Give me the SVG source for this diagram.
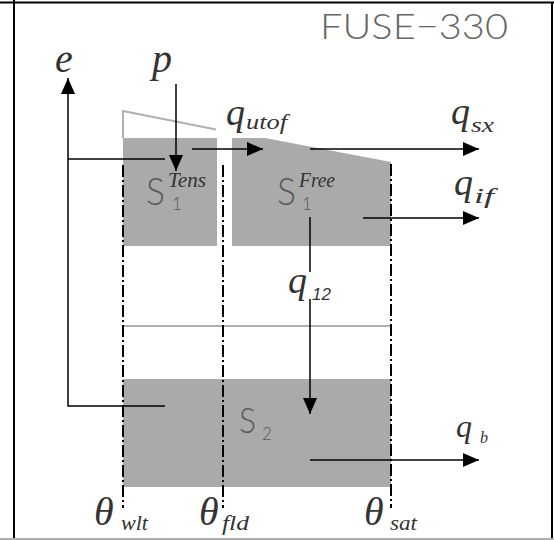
<svg xmlns="http://www.w3.org/2000/svg" width="554" height="540" viewBox="0 0 554 540">
<defs>
<style>
.frame{stroke:#000;stroke-width:2;fill:none}
.fill{fill:#aaaaaa;stroke:none}
.outline{stroke:#b0b0b0;stroke-width:2;fill:none}
.dd{stroke:#000;stroke-width:2;fill:none;stroke-dasharray:12,3,2,3}
.conn{stroke:#000;stroke-width:1.5;fill:none}
.m{font-family:"Liberation Serif",serif;font-style:italic;fill:#333}
.s{font-family:Lato,"Liberation Sans",sans-serif;font-weight:300;fill:#5a5a5a}
</style>
<marker id="ah" viewBox="0 0 16 14" refX="16" refY="7" markerWidth="16" markerHeight="14" markerUnits="userSpaceOnUse" orient="auto">
<path d="M0,0 L16,7 L0,14 Z" fill="#000"/>
</marker>
</defs>
<rect x="0" y="0" width="554" height="540" fill="#fff"/>
<g id="frame">
<line class="frame" x1="0" y1="2.5" x2="554" y2="2.5"/>
<line class="frame" x1="14" y1="0" x2="14" y2="540"/>
<line class="frame" x1="552" y1="2" x2="552" y2="540"/>
<line x1="0" y1="539" x2="554" y2="539" stroke="#b0b0b0" stroke-width="2"/>
</g>
<text id="title" x="320" y="39" font-size="36" textLength="188" lengthAdjust="spacingAndGlyphs" font-family="Lato, 'Liberation Sans', sans-serif" font-weight="300" fill="#666">FUSE−330</text>
<g id="S1Tens">
<rect class="fill" x="123" y="138" width="94" height="108"/>
<polyline class="outline" points="123,138 123,111 216,129.5"/>
<text class="s" x="146" y="205" font-size="37" textLength="19" lengthAdjust="spacingAndGlyphs">S</text>
<text class="s" x="172" y="210" font-size="17">1</text>
<text class="m" x="168" y="187" font-size="20" textLength="38" lengthAdjust="spacingAndGlyphs">Tens</text>
</g>
<g id="S1Free">
<polygon class="fill" points="232,138 265,138 391,162 391,246 232,246"/>
<text class="s" x="277" y="205" font-size="37" textLength="19" lengthAdjust="spacingAndGlyphs">S</text>
<text class="s" x="302" y="210" font-size="17">1</text>
<text class="m" x="299" y="187" font-size="20" textLength="36" lengthAdjust="spacingAndGlyphs">Free</text>
</g>
<g id="S2">
<line class="outline" x1="123" y1="326" x2="391" y2="326"/>
<rect class="fill" x="123" y="379" width="268" height="108"/>
<text class="s" x="239" y="433" font-size="35" textLength="17" lengthAdjust="spacingAndGlyphs">S</text>
<text class="s" x="262" y="440" font-size="17">2</text>
</g>
<g id="thresholds">
<line class="dd" x1="123" y1="165" x2="123" y2="508"/>
<line class="dd" x1="223" y1="165" x2="223" y2="508"/>
<line class="dd" x1="391" y1="164" x2="391" y2="508"/>
</g>
<g id="connectors">
<polyline class="conn" points="165,406 68,406 68,78" marker-end="url(#ah)"/>
<line class="conn" x1="68" y1="159" x2="165" y2="159"/>
<line class="conn" x1="176" y1="84" x2="176" y2="171" marker-end="url(#ah)"/>
<line class="conn" x1="192" y1="149" x2="263" y2="149" marker-end="url(#ah)"/>
<line class="conn" x1="310" y1="149" x2="479" y2="149" marker-end="url(#ah)"/>
<line class="conn" x1="363" y1="218" x2="479" y2="218" marker-end="url(#ah)"/>
<line class="conn" x1="310" y1="217" x2="310" y2="272"/>
<line class="conn" x1="310" y1="299" x2="310" y2="414" marker-end="url(#ah)"/>
<line class="conn" x1="310" y1="460" x2="479" y2="460" marker-end="url(#ah)"/>
</g>
<g id="labels">
<text class="m" x="55" y="72" font-size="40">e</text>
<text class="m" x="152" y="72" font-size="40">p</text>
<text class="m" x="226" y="125" font-size="38">q</text>
<text class="m" x="246" y="129" font-size="20" textLength="41" lengthAdjust="spacingAndGlyphs">utof</text>
<text class="m" x="451" y="124" font-size="38">q</text>
<text class="m" x="471" y="132" font-size="20" textLength="23" lengthAdjust="spacingAndGlyphs">sx</text>
<text class="m" x="454" y="195" font-size="38">q</text>
<text class="m" x="474" y="203" font-size="20" textLength="20" lengthAdjust="spacingAndGlyphs">if</text>
<text class="m" x="288" y="293" font-size="38">q</text>
<text x="312" y="300" font-size="17" font-style="italic" font-family="Liberation Sans, sans-serif" fill="#333">12</text>
<text class="m" x="456" y="437" font-size="32">q</text>
<text class="m" x="480" y="443" font-size="16">b</text>
<text class="m" x="94" y="525" font-size="40">θ</text>
<text class="m" x="121" y="530" font-size="20" textLength="27" lengthAdjust="spacingAndGlyphs">wlt</text>
<text class="m" x="199" y="525" font-size="40">θ</text>
<text class="m" x="222" y="530" font-size="20" textLength="27" lengthAdjust="spacingAndGlyphs">fld</text>
<text class="m" x="364" y="525" font-size="40">θ</text>
<text class="m" x="390" y="530" font-size="20" textLength="27" lengthAdjust="spacingAndGlyphs">sat</text>
</g>
</svg>
